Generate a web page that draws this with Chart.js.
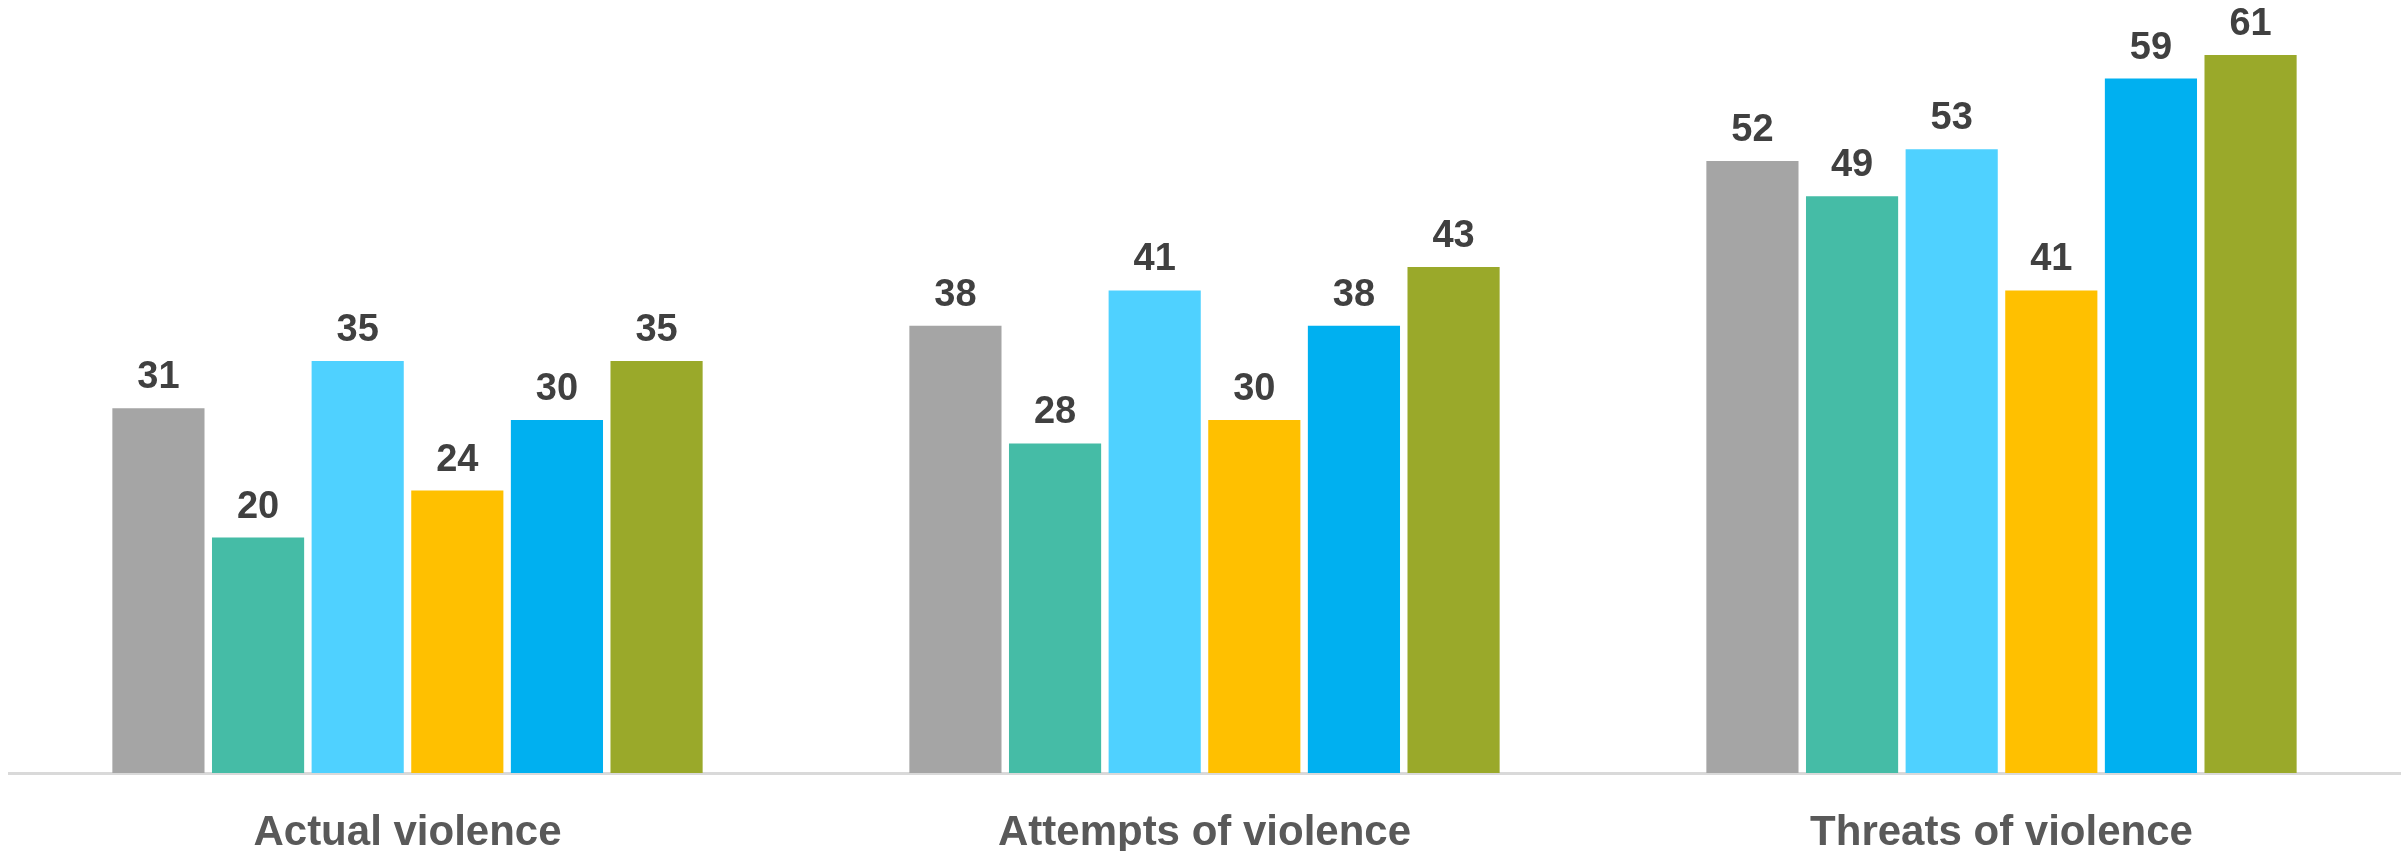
<!DOCTYPE html>
<html>
<head>
<meta charset="utf-8">
<script src="https://cdn.jsdelivr.net/npm/chart.js@4"></script>
<style>
  html, body { margin: 0; padding: 0; background: #fff; }
  #wrap { width: 2404px; height: 851px; position: relative; }
</style>
</head>
<body>
<div id="wrap"><canvas id="chart"></canvas></div>
<script>
const categories = ['Actual violence', 'Attempts of violence', 'Threats of violence'];

// six series, one bar each per category (no legend in the picture)
const series1 = [31, 38, 52];
const series2 = [20, 28, 49];
const series3 = [35, 41, 53];
const series4 = [24, 30, 41];
const series5 = [30, 38, 59];
const series6 = [35, 43, 61];

const colors = ['#A5A5A5', '#45BCA6', '#4FD1FF', '#FFC000', '#00B0F0', '#9AA92A'];

// draws the value above each bar
const valueLabels = {
    id: 'valueLabels',
    afterDatasetsDraw(chart) {
        const ctx = chart.ctx;
        ctx.save();
        ctx.font = 'bold 38px "Liberation Sans", Arial, sans-serif';
        ctx.fillStyle = '#404040';
        ctx.textAlign = 'center';
        ctx.textBaseline = 'alphabetic';
        chart.data.datasets.forEach((ds, i) => {
            const meta = chart.getDatasetMeta(i);
            meta.data.forEach((bar, j) => {
                ctx.fillText(ds.data[j], bar.x, bar.y - 20);
            });
        });
        ctx.restore();
    }
};

const ctx = document.getElementById('chart').getContext('2d');
const chart = new Chart(ctx, {
    type: 'bar',
    data: {
        labels: categories,
        datasets: [series1, series2, series3, series4, series5, series6].map((d, i) => ({
            data: d,
            backgroundColor: colors[i],
            borderWidth: 0,
            barPercentage: 0.925,
            categoryPercentage: 0.75
        }))
    },
    options: {
        responsive: true,
        maintainAspectRatio: false,
        animation: false,
        layout: { padding: { left: 9, right: 4, top: 8, bottom: 0 } },
        plugins: {
            legend: { display: false },
            tooltip: { enabled: false }
        },
        scales: {
            x: {
                grid: { display: false, drawTicks: false },
                border: { display: true, color: '#D9D9D9', width: 3 },
                ticks: {
                    padding: 35,
                    color: '#595959',
                    font: { family: '"Liberation Sans", Arial, sans-serif', size: 42, weight: 'bold' }
                },
                afterFit(scale) { scale.height = 78; }
            },
            y: {
                display: false,
                min: 0,
                max: 65
            }
        }
    },
    plugins: [valueLabels]
});
</script>
</body>
</html>
